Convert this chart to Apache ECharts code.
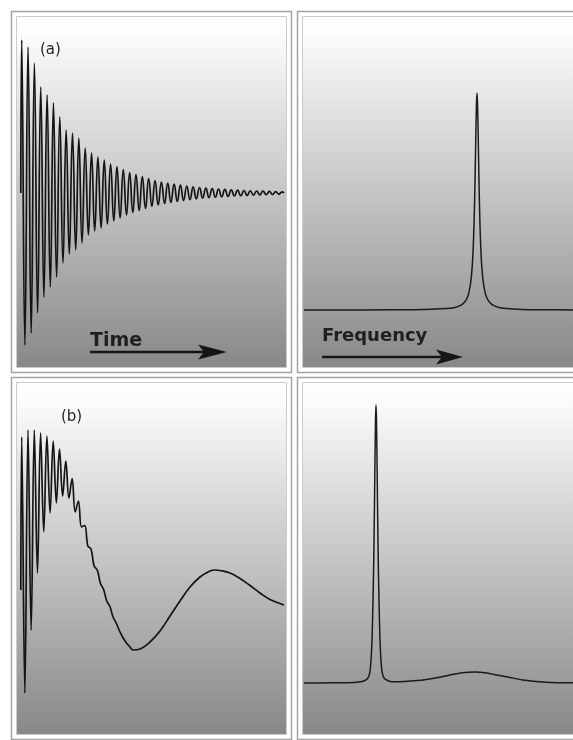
<!DOCTYPE html>
<html><head><meta charset="utf-8">
<script src="https://cdn.jsdelivr.net/npm/echarts/dist/echarts.min.js"></script>
<style>html,body{margin:0;padding:0;background:#fff}#c{width:573px;height:740px}</style>
</head><body><div id="c"></div>
<script>
// (a) time domain: sample index and signal amplitude (extrema of the decaying oscillation)
const fidATime = [3.8, 4.7, 7.9, 11.05, 14.2, 17.4, 20.6, 23.75, 26.9, 30.1, 33.3, 36.45, 39.6, 42.8, 46.0, 49.15, 52.3, 55.5, 58.7, 61.85, 65.0, 68.2, 71.4, 74.55, 77.7, 80.9, 84.1, 87.25, 90.4, 93.6, 96.8, 99.95, 103.1, 106.3, 109.5, 112.65, 115.8, 119.0, 122.2, 125.35, 128.5, 131.7, 134.9, 138.05, 141.2, 144.4, 147.6, 150.75, 153.9, 157.1, 160.3, 163.45, 166.6, 169.8, 173.0, 176.15, 179.3, 182.5, 185.7, 188.85, 192.0, 195.2, 198.4, 201.55, 204.7, 207.9, 211.1, 214.25, 217.4, 220.6, 223.8, 226.95, 230.1, 233.3, 236.5, 239.65, 242.8, 246.0, 249.2, 252.35, 255.5, 258.7, 261.9, 265.05, 267];
const fidAAmp = [0, 153, -152, 146, -140, 130, -120, 106, -104, 98, -94, 90, -84, 76, -70, 63, -61, 60, -57, 55, -50, 45, -42, 40, -38, 36, -35, 33, -31, 29, -28, 26.5, -25, 23.5, -22, 20.5, -19.5, 18.5, -17.5, 16.5, -15.5, 14.5, -13.5, 12.5, -12, 11, -10.5, 10, -9.5, 9, -8.5, 8, -7.5, 7, -6.6, 6.2, -5.8, 5.5, -5.2, 4.9, -4.6, 4.4, -4.2, 4.0, -3.8, 3.6, -3.4, 3.2, -3.0, 2.8, -2.7, 2.5, -2.4, 2.2, -2.1, 2.0, -1.9, 1.8, -1.7, 1.6, -1.5, 1.4, -1.3, 1.2, 0];

// (a) frequency domain: frequency and intensity (single narrow line)
const specAFreq = [0, 60, 110, 143, 151, 156, 160, 163, 165, 167, 168.5, 169.4, 170, 170.6, 171.2, 171.8, 172.4, 173, 173.6, 174.2, 174.8, 175.4, 176, 176.6, 177.5, 179, 181, 183, 186, 190, 195, 203, 218, 240, 269];
const specAInt = [0, 0.1, 0.3, 1.4, 2.6, 4.3, 7.2, 11.8, 17.9, 29.9, 48, 66.8, 84.6, 108.5, 138.9, 173.6, 204, 217, 204, 173.6, 138.9, 108.5, 84.6, 66.8, 48, 29.9, 17.9, 11.8, 7.2, 4.3, 2.6, 1.4, 0.6, 0.3, 0.1];

// (b) time domain: sample index and signal amplitude
const fidBTime = [3.8, 4.7, 7.85, 11.0, 14.15, 17.3, 20.45, 23.6, 26.75, 29.9, 33.05, 36.2, 39.35, 42.5, 45.65, 48.8, 51.95, 55.1, 58.25, 61.4, 64.55, 67.7, 70.85, 74.0, 77.15, 80.3, 83.45, 86.6, 89.75, 92.9, 96.05, 99.2, 103, 108, 113, 116, 123, 133, 143, 153, 163, 173, 183, 193, 198, 203, 213, 223, 233, 243, 253, 263, 267];
const fidBAmp = [-30, 123, -133, 130, -70, 130, -13, 127, 28, 124, 47, 119, 57, 111, 64, 99, 62, 81.5, 48, 59, 33, 34.5, 14, 11, -6, -10, -23.5, -29.5, -41, -46.5, -57, -63, -72, -81, -87, -90, -89, -82, -71, -56, -41, -27, -17, -11, -10, -10.5, -13, -18.5, -25.5, -33, -39.5, -43.5, -45];

// (b) frequency domain: frequency and intensity (narrow line + broad line)
const specBFreq = [0, 30, 50, 58, 62, 64, 65.5, 66.5, 67.3, 68, 68.5, 69, 69.5, 70, 70.5, 71, 71.5, 72, 72.5, 73, 73.5, 74, 74.5, 75, 75.5, 76, 76.7, 77.5, 78.5, 80, 82, 86, 92, 100, 110, 119, 133, 146, 158, 171, 183, 193, 206, 219, 232, 246, 269];
const specBInt = [0, 0.2, 0.5, 1.4, 3.2, 5.2, 9, 16, 27, 43, 60, 82, 108, 140, 180, 225, 262, 278, 262, 225, 180, 140, 108, 82, 60, 43, 27, 16, 9, 5.2, 3.3, 1.6, 1.3, 1.5, 2.2, 3, 5.3, 8, 10.2, 11, 10, 8, 5.5, 3, 1.5, 0.6, 0.2];

const panelLabels = ['(a)', '(b)'];
const axisLabels = ['Time', 'Frequency'];

const pair = (xs, ys) => xs.map((x, i) => [x, ys[i]]);

const chart = echarts.init(document.getElementById('c'), null, {renderer: 'canvas'});

function panel(x, y, w, h) {
  return [
    {type: 'rect', z: -10, shape: {x: x, y: y, width: w, height: h},
      style: {fill: '#ffffff', stroke: '#a3a3a3', lineWidth: 1.5}, silent: true},
    {type: 'rect', z: -9, shape: {x: x + 5, y: y + 5, width: w - 10, height: h - 10},
      style: {fill: {type: 'linear', x: 0, y: 0, x2: 0, y2: 1,
        colorStops: [{offset: 0, color: '#ffffff'}, {offset: 0.05, color: '#fcfcfc'}, {offset: 1, color: '#888888'}]},
        stroke: '#cccccc', lineWidth: 1}, silent: true}
  ];
}

function arrow(x1, x2, y, headLen) {
  return [
    {type: 'line', z: 5, shape: {x1: x1, y1: y, x2: x2 - headLen + 6, y2: y},
      style: {stroke: '#151515', lineWidth: 2.5}, silent: true},
    {type: 'polygon', z: 5, shape: {points: [[x2 - headLen, y - 7.5], [x2, y], [x2 - headLen, y + 7.5], [x2 - headLen + 6, y]]},
      style: {fill: '#151515'}, silent: true}
  ];
}

const graphics = [].concat(
  panel(11.5, 11.5, 280, 361),
  panel(297.5, 11.5, 284, 361),
  panel(11.5, 377.5, 280, 362),
  panel(297.5, 377.5, 284, 362),
  [
    {type: 'text', z: 5, x: 40, y: 42.5, style: {text: panelLabels[0], font: '15px "DejaVu Sans"', fill: '#262626'}, silent: true},
    {type: 'text', z: 5, x: 61, y: 409.5, style: {text: panelLabels[1], font: '15px "DejaVu Sans"', fill: '#262626'}, silent: true},
    {type: 'text', z: 5, x: 90, y: 332, style: {text: axisLabels[0], font: 'bold 19px "DejaVu Sans"', fill: '#1f1f1f'}, silent: true},
    {type: 'text', z: 5, x: 322, y: 327, style: {text: axisLabels[1], font: 'bold 18px "DejaVu Sans"', fill: '#1f1f1f'}, silent: true}
  ],
  arrow(90, 227, 352, 29),
  arrow(322, 463, 357, 27)
);

const timeLine = {color: '#141414', width: 1.7};
const specLine = {color: '#1a1a1a', width: 1.5};

const option = {
  animation: false,
  backgroundColor: '#ffffff',
  graphic: graphics,
  grid: [
    {left: 17, top: 18, width: 268, height: 350},
    {left: 304, top: 17, width: 269, height: 351},
    {left: 17, top: 385, width: 268, height: 351},
    {left: 304, top: 385, width: 269, height: 351}
  ],
  xAxis: [
    {type: 'value', gridIndex: 0, min: 0, max: 268, show: false},
    {type: 'value', gridIndex: 1, min: 0, max: 269, show: false},
    {type: 'value', gridIndex: 2, min: 0, max: 268, show: false},
    {type: 'value', gridIndex: 3, min: 0, max: 269, show: false}
  ],
  yAxis: [
    {type: 'value', gridIndex: 0, min: -175, max: 175, show: false},
    {type: 'value', gridIndex: 1, min: -58, max: 293, show: false},
    {type: 'value', gridIndex: 2, min: -176, max: 175, show: false},
    {type: 'value', gridIndex: 3, min: -53, max: 298, show: false}
  ],
  series: [
    {type: 'line', xAxisIndex: 0, yAxisIndex: 0, data: pair(fidATime, fidAAmp), showSymbol: false, symbol: 'none', smooth: 0.5, lineStyle: timeLine, silent: true},
    {type: 'line', xAxisIndex: 1, yAxisIndex: 1, data: pair(specAFreq, specAInt), showSymbol: false, symbol: 'none', smooth: 0.2, lineStyle: specLine, silent: true},
    {type: 'line', xAxisIndex: 2, yAxisIndex: 2, data: pair(fidBTime, fidBAmp), showSymbol: false, symbol: 'none', smooth: 0.4, lineStyle: timeLine, silent: true},
    {type: 'line', xAxisIndex: 3, yAxisIndex: 3, data: pair(specBFreq, specBInt), showSymbol: false, symbol: 'none', smooth: 0.2, lineStyle: specLine, silent: true}
  ]
};
chart.setOption(option);
</script>
</body></html>
